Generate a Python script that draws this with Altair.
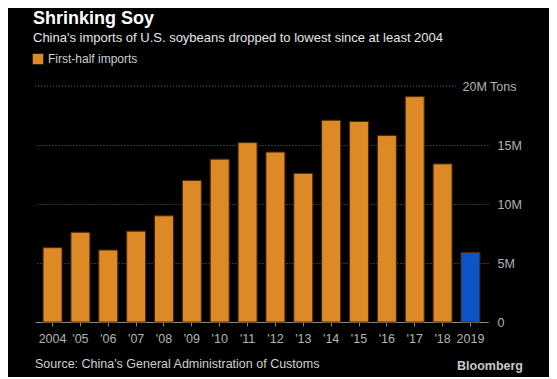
import altair as alt
import pandas as pd

years = ["2004", "'05", "'06", "'07", "'08", "'09", "'10", "'11", "'12", "'13",
         "'14", "'15", "'16", "'17", "'18", "2019"]
imports_m = [6.3, 7.6, 6.1, 7.7, 9.0, 12.0, 13.8, 15.2, 14.4, 12.6,
             17.1, 17.0, 15.8, 19.1, 13.4, 5.9]
series = ["First-half imports"] * 15 + ["2019"]
y_top = [20]

df = pd.DataFrame({"year": years, "value": imports_m, "series": series})

FONT = "Liberation Sans"
ORANGE = "#dd8a26"
BLUE = "#0b56c4"
LABEL = "#b4b4b4"
GRID = "#6a6a6a"

bars = alt.Chart(df).mark_bar(stroke="#4a2a08", strokeWidth=1).encode(
    x=alt.X("year:N", sort=years, title=None,
            scale=alt.Scale(paddingInner=0.32, paddingOuter=0.29),
            axis=alt.Axis(labelAngle=0, labelColor=LABEL, labelFont=FONT, labelFontSize=12.5,
                          domainColor="#8a8a8a", tickColor="#8a8a8a", tickSize=4,
                          labelPadding=6, grid=False)),
    y=alt.Y("value:Q", title=None,
            scale=alt.Scale(domain=[0, 20], nice=False),
            axis=alt.Axis(orient="right", values=[0, 5, 10, 15, 20],
                          labelExpr="datum.value == 0 ? '0' : datum.value == 20 ? '20M Tons' : datum.value + 'M'",
                          labelAlign={"condition": {"test": "datum.value == 20", "value": "right"}, "value": "left"},
                          labelPadding={"condition": {"test": "datum.value == 20", "value": 28}, "value": 9},
                          gridOpacity={"condition": {"test": "datum.value == 20", "value": 0}, "value": 1},
                          labelColor=LABEL, labelFont=FONT, labelFontSize=12.5,
                          domain=False, ticks=False, grid=True,
                          gridColor=GRID, gridDash=[1, 2], gridWidth=1)),
    color=alt.Color("series:N",
                    scale=alt.Scale(domain=["First-half imports", "2019"], range=[ORANGE, BLUE]),
                    legend=alt.Legend(values=["First-half imports"], title=None, orient="none",
                                      legendX=-3, legendY=-33, symbolType="square",
                                      symbolSize=110, symbolStrokeWidth=0,
                                      labelColor="#cfcfcf", labelFont=FONT, labelFontSize=12,
                                      symbolOffset=0, padding=0)),
)

top_grid = alt.Chart(pd.DataFrame({"v": y_top})).mark_rule(
    color=GRID, strokeDash=[1, 2], strokeWidth=1
).encode(y="v:Q", x=alt.value(0), x2=alt.value(423))

def txt(text, x, y, size, color, weight="normal", align="left"):
    return alt.Chart(pd.DataFrame({"t": [text]})).mark_text(
        align=align, baseline="alphabetic", font=FONT, fontSize=size,
        fontWeight=weight, color=color
    ).encode(text="t:N", x=alt.value(x), y=alt.value(y))

title = txt("Shrinking Soy", -2, -62.5, 18, "#ffffff", "bold")
subtitle = txt("China's imports of U.S. soybeans dropped to lowest since at least 2004",
               -2, -44, 13, "#e6e6e6")
source = txt("Source: China's General Administration of Customs", 0, 282, 12.5, "#d0d0d0")
brand = txt("Bloomberg", 488, 284, 12.5, "#c8c8c8", "bold", "right")

chart = alt.layer(top_grid, bars, title, subtitle, source, brand).properties(
    width=453, height=236,
    autosize=alt.AutoSizeParams(type="none"),
    padding={"left": 27, "top": 78, "right": 61, "bottom": 55},
    background="#000000",
).configure_view(stroke=None)

chart.save("out.html", embed_options={"renderer": "svg", "actions": False})
